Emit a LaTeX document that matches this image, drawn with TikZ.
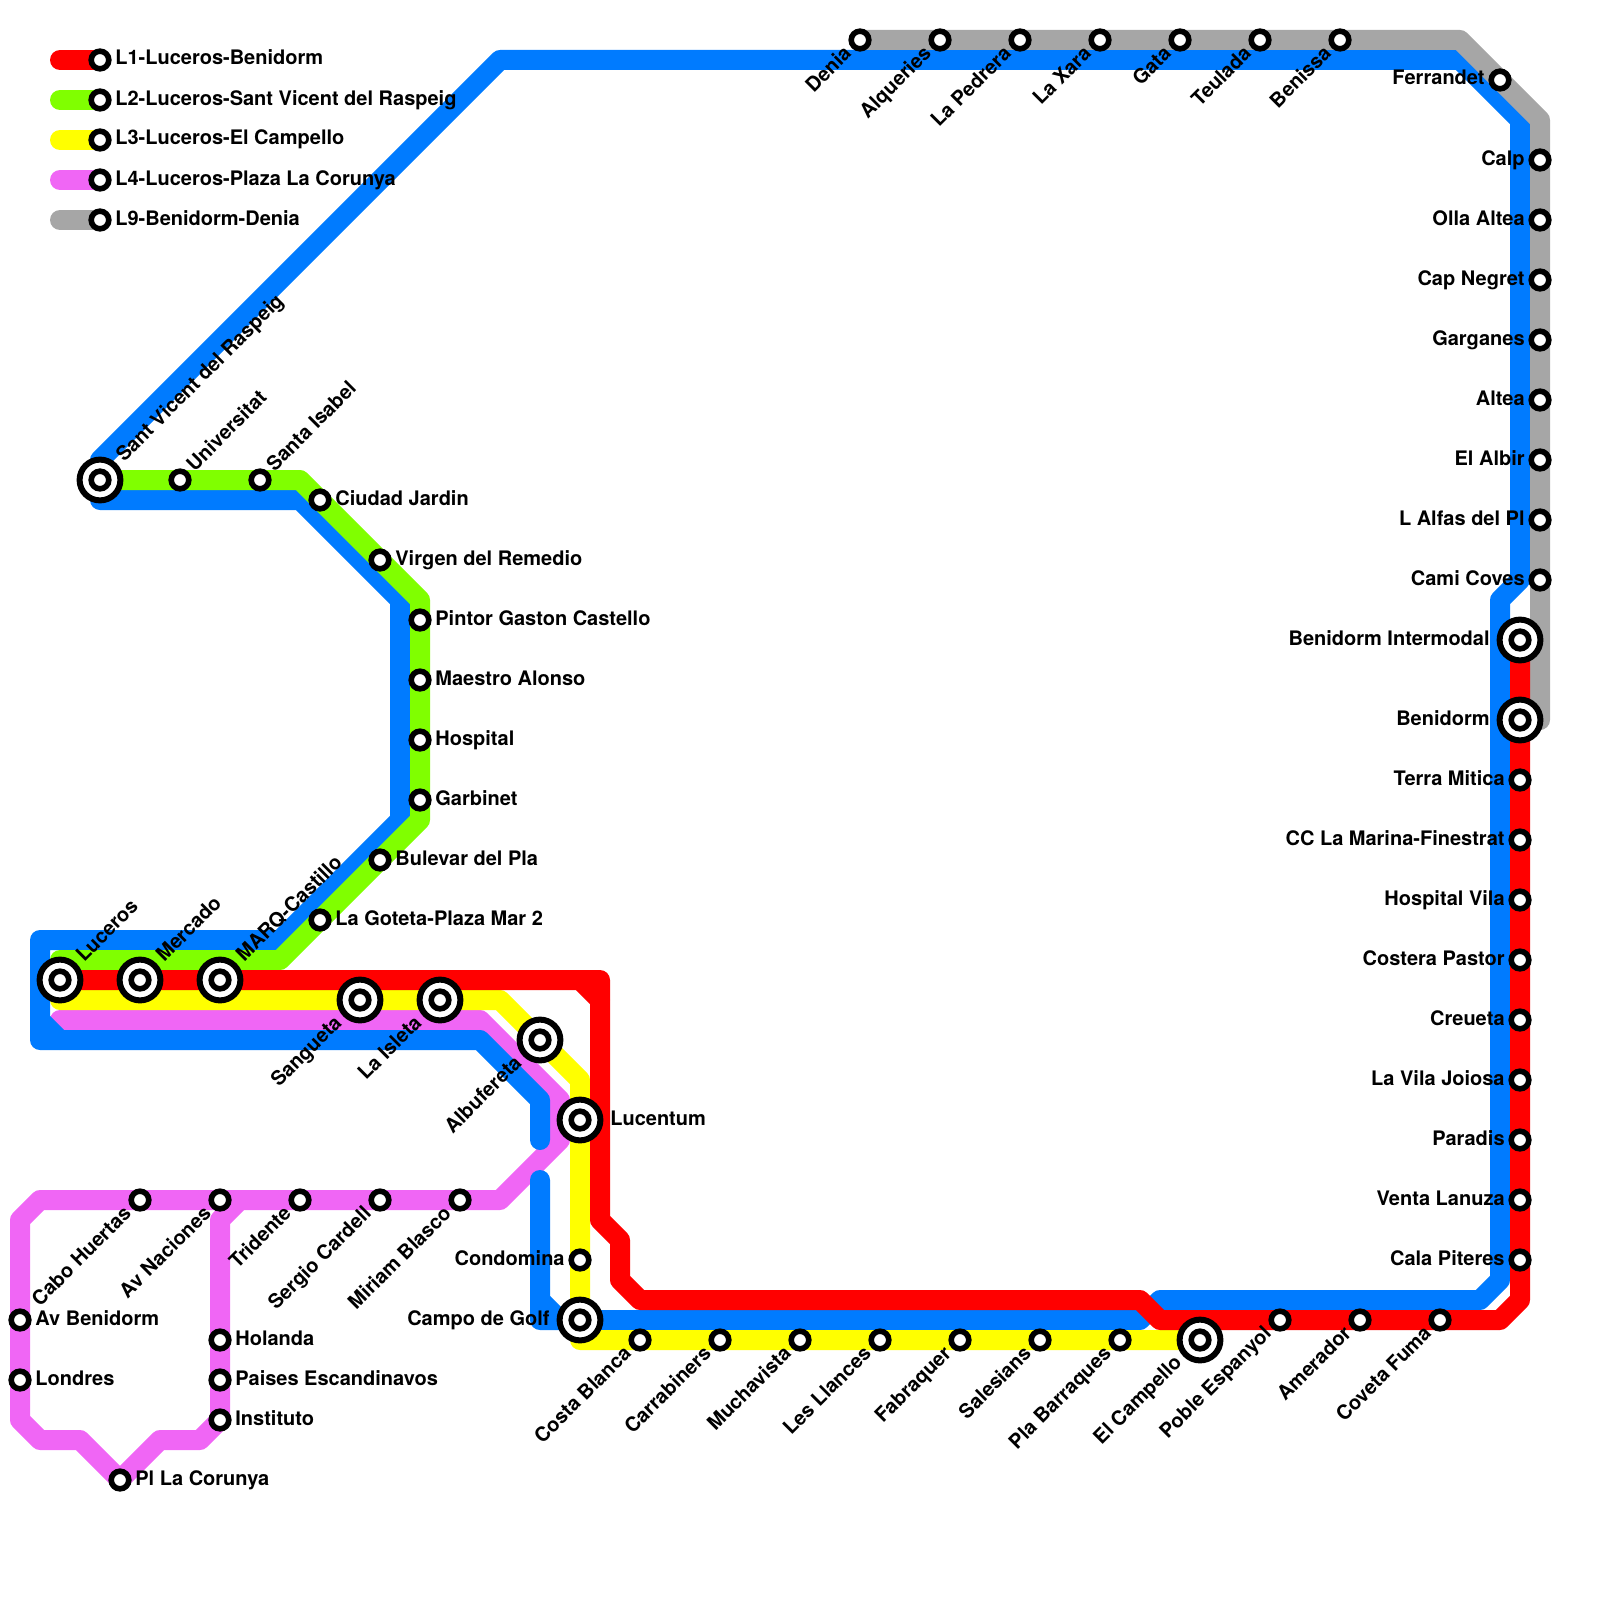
\documentclass[tikz,border=0pt]{standalone}
\usepackage{fontspec}
\setmainfont{TeX Gyre Heros}
\definecolor{lred}{HTML}{FF0000}
\definecolor{lgreen}{HTML}{80FF00}
\definecolor{lyellow}{HTML}{FFFF00}
\definecolor{lpink}{HTML}{F066F5}
\definecolor{lblue}{HTML}{007BFF}
\definecolor{lgrey}{HTML}{A6A6A6}
\tikzset{
  route/.style={line width=10pt,line join=round,line cap=round},
  stn/.style={circle,draw=black,fill=white,line width=2.8pt,minimum size=8.8pt,inner sep=0pt,outer sep=0pt},
  hub/.style={circle,draw=black,fill=white,line width=3pt,minimum size=20.4pt,inner sep=0pt,outer sep=0pt},
  lab/.style={font=\fontsize{10}{12}\selectfont\bfseries,inner sep=0pt,text=black},
  tr/.style={anchor=base west},
  tl/.style={anchor=base east},
  dr/.style={anchor=base west,rotate=45},
  dl/.style={anchor=base east,rotate=45}
}
\newcommand\stopGen[5]{\node[stn] (#1) at (#2) {}; \path (#1) ++(#3) node[lab,#4] (#1-t) {#5};}
\newcommand\hubGen[5]{\node[hub] (#1-r) at (#2) {}; \node[stn] (#1) at (#2) {}; \path (#1) ++(#3) node[lab,#4] (#1-t) {#5};}
\newcommand\stopR[3]{\stopGen{#1}{#2}{15,5}{tr}{#3}}
\newcommand\stopL[3]{\stopGen{#1}{#2}{-15,5}{tl}{#3}}
\newcommand\stopU[3]{\stopGen{#1}{#2}{14.5,-7.4}{dr}{#3}}
\newcommand\stopD[3]{\stopGen{#1}{#2}{-7.4,14.5}{dl}{#3}}
\newcommand\hubR[3]{\hubGen{#1}{#2}{30,5}{tr}{#3}}
\newcommand\hubL[3]{\hubGen{#1}{#2}{-30,5}{tl}{#3}}
\newcommand\hubU[3]{\hubGen{#1}{#2}{24,-17}{dr}{#3}}
\newcommand\hubD[3]{\hubGen{#1}{#2}{-17,24}{dl}{#3}}
\begin{document}
\begin{tikzpicture}[x=0.5pt,y=-0.5pt]
\useasboundingbox (0,0) rectangle (1600,1600);
% legend bars
\draw[route,lred] (60,60) -- (100,60);
\draw[route,lgreen] (60,100) -- (100,100);
\draw[route,lyellow] (60,140) -- (100,140);
\draw[route,lpink] (60,180) -- (100,180);
\draw[route,lgrey] (60,220) -- (100,220);
% L4
\draw[route,lpink] (60,1020) -- (480,1020) -- (560,1100) -- (560,1140) -- (500,1200) -- (40,1200) -- (20,1220) -- (20,1420) -- (40,1440) -- (80,1440) -- (120,1480) -- (160,1440) -- (200,1440) -- (220,1420) -- (220,1220) -- (240,1200);
% blue
\draw[route,lblue] (540,1140) -- (540,1100) -- (480,1040) -- (40,1040) -- (40,940) -- (280,940) -- (400,820) -- (400,600) -- (300,500) -- (100,500) -- (100,460) -- (500,60) -- (1460,60) -- (1520,120) -- (1520,580) -- (1500,600) -- (1500,1280) -- (1480,1300) -- (1160,1300) -- (1140,1320) -- (540,1320) -- (540,1180);
\draw[route,lblue] (40,1020) -- (60,1040);
\draw[route,lblue] (540,1300) -- (560,1320);
% L9
\draw[route,lgrey] (860,40) -- (1460,40) -- (1540,120) -- (1540,720) -- (1520,720);
% L2
\draw[route,lgreen] (100,480) -- (300,480) -- (420,600) -- (420,820) -- (280,960) -- (60,960);
% L3
\draw[route,lyellow] (60,1000) -- (500,1000) -- (580,1080) -- (580,1340) -- (1200,1340);
% L1
\draw[route,lred] (60,980) -- (600,980) -- (600,1220) -- (620,1240) -- (620,1280) -- (640,1300) -- (1140,1300) -- (1160,1320) -- (1500,1320) -- (1520,1300) -- (1520,640);
\draw[route,lred] (580,980) -- (600,1000);
% legend
\stopR{legA}{100,60}{L1-Luceros-Benidorm}
\stopR{legB}{100,100}{L2-Luceros-Sant Vicent del Raspeig}
\stopR{legC}{100,140}{L3-Luceros-El Campello}
\stopR{legD}{100,180}{L4-Luceros-Plaza La Corunya}
\stopR{legE}{100,220}{L9-Benidorm-Denia}
% top row
\stopD{denia}{860,40}{Denia}
\stopD{alqueries}{940,40}{Alqueries}
\stopD{pedrera}{1020,40}{La Pedrera}
\stopD{xara}{1100,40}{La Xara}
\stopD{gata}{1180,40}{Gata}
\stopD{teulada}{1260,40}{Teulada}
\stopD{benissa}{1340,40}{Benissa}
\stopL{ferrandet}{1500,80}{Ferrandet}
\stopL{calp}{1540,160}{Calp}
\stopL{olla}{1540,220}{Olla Altea}
\stopL{negret}{1540,280}{Cap Negret}
\stopL{garganes}{1540,340}{Garganes}
\stopL{altea}{1540,400}{Altea}
\stopL{albir}{1540,460}{El Albir}
\stopL{alfas}{1540,520}{L Alfas del Pl}
\stopL{coves}{1540,580}{Cami Coves}
\hubL{intermodal}{1520,640}{Benidorm Intermodal}
\hubL{benidorm}{1520,720}{Benidorm}
\stopL{mitica}{1520,780}{Terra Mitica}
\stopL{marina}{1520,840}{CC La Marina-Finestrat}
\stopL{vila}{1520,900}{Hospital Vila}
\stopL{costera}{1520,960}{Costera Pastor}
\stopL{creueta}{1520,1020}{Creueta}
\stopL{joiosa}{1520,1080}{La Vila Joiosa}
\stopL{paradis}{1520,1140}{Paradis}
\stopL{lanuza}{1520,1200}{Venta Lanuza}
\stopL{piteres}{1520,1260}{Cala Piteres}
% bottom row
\stopD{coveta}{1440,1320}{Coveta Fuma}
\stopD{amerador}{1360,1320}{Amerador}
\stopD{poble}{1280,1320}{Poble Espanyol}
\hubD{campello}{1200,1340}{El Campello}
\stopD{barraques}{1120,1340}{Pla Barraques}
\stopD{salesians}{1040,1340}{Salesians}
\stopD{fabraquer}{960,1340}{Fabraquer}
\stopD{llances}{880,1340}{Les Llances}
\stopD{muchavista}{800,1340}{Muchavista}
\stopD{carrabiners}{720,1340}{Carrabiners}
\stopD{costablanca}{640,1340}{Costa Blanca}
\hubL{golf}{580,1320}{Campo de Golf}
\stopL{condomina}{580,1260}{Condomina}
\hubR{lucentum}{580,1120}{Lucentum}
\hubD{albufereta}{540,1040}{Albufereta}
\hubD{isleta}{440,1000}{La Isleta}
\hubD{sangueta}{360,1000}{Sangueta}
\hubU{luceros}{60,980}{Luceros}
\hubU{mercado}{140,980}{Mercado}
\hubU{marq}{220,980}{MARQ-Castillo}
% L2 stops
\stopR{goteta}{320,920}{La Goteta-Plaza Mar 2}
\stopR{bulevar}{380,860}{Bulevar del Pla}
\stopR{garbinet}{420,800}{Garbinet}
\stopR{hospital}{420,740}{Hospital}
\stopR{alonso}{420,680}{Maestro Alonso}
\stopR{pintor}{420,620}{Pintor Gaston Castello}
\stopR{virgen}{380,560}{Virgen del Remedio}
\stopR{jardin}{320,500}{Ciudad Jardin}
\stopU{isabel}{260,480}{Santa Isabel}
\stopU{universitat}{180,480}{Universitat}
\hubU{raspeig}{100,480}{Sant Vicent del Raspeig}
% L4 stops
\stopD{miriam}{460,1200}{Miriam Blasco}
\stopD{sergio}{380,1200}{Sergio Cardell}
\stopD{tridente}{300,1200}{Tridente}
\stopD{naciones}{220,1200}{Av Naciones}
\stopD{huertas}{140,1200}{Cabo Huertas}
\stopR{avbenidorm}{20,1320}{Av Benidorm}
\stopR{londres}{20,1380}{Londres}
\stopR{holanda}{220,1340}{Holanda}
\stopR{paises}{220,1380}{Paises Escandinavos}
\stopR{instituto}{220,1420}{Instituto}
\stopR{corunya}{120,1480}{Pl La Corunya}
\end{tikzpicture}
\end{document}
